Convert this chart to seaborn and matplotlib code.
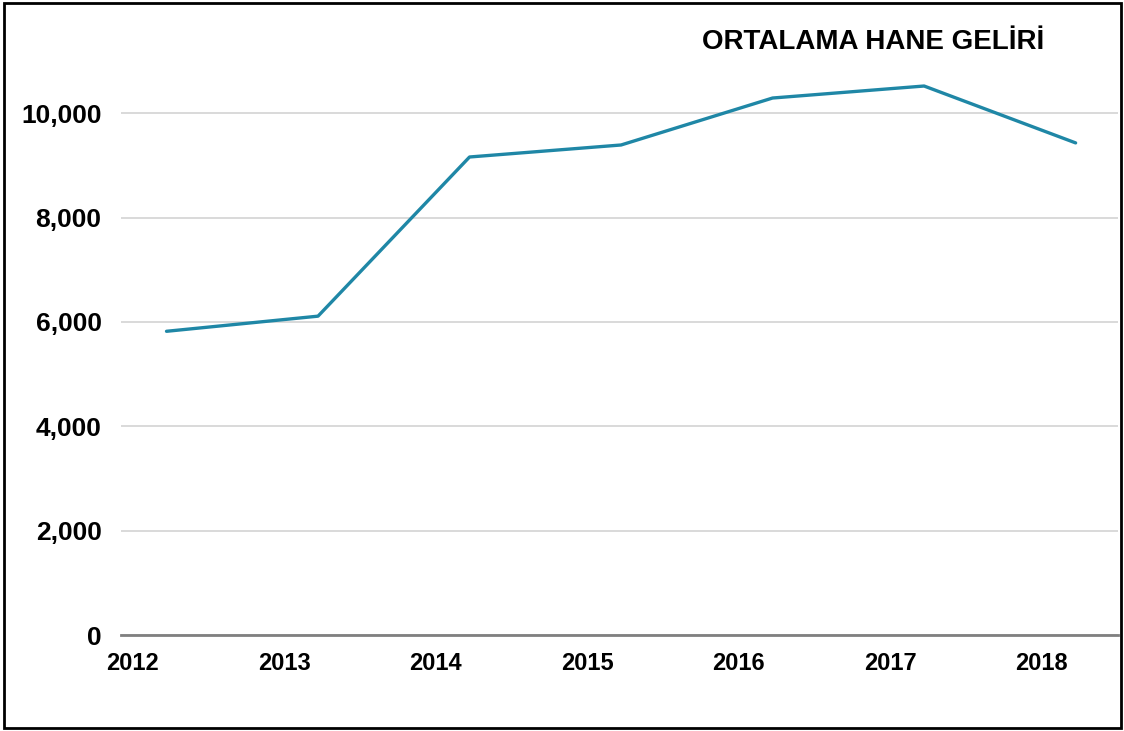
import matplotlib
matplotlib.use("Agg")
import matplotlib.pyplot as plt
import matplotlib.transforms as mtransforms
from matplotlib.patches import Rectangle
from matplotlib.ticker import FuncFormatter
import seaborn as sns
import pandas as pd

years = ["2012", "2013", "2014", "2015", "2016", "2017", "2018"]
income = [5820, 6110, 9160, 9390, 10290, 10520, 9430]
y_ticks = [0, 2000, 4000, 6000, 8000, 10000]
title = "ORTALAMA HANE GELİRİ"

sns.set_theme(style="white")
plt.rcParams["font.family"] = ["Liberation Sans", "DejaVu Sans"]

df = pd.DataFrame({"pos": range(len(years)), "year": years, "income": income})

fig = plt.figure(figsize=(11.24, 7.31), dpi=100)
ax = fig.add_axes([0.1077, 0.1313, 0.887, 0.7853])

sns.lineplot(data=df, x="pos", y="income", ax=ax, color="#1F87A6", linewidth=2.4)

ax.set_xlim(-0.30, 6.28)
ax.set_ylim(0, 11000)
ax.set_yticks(y_ticks)
ax.yaxis.set_major_formatter(FuncFormatter(lambda v, p: f"{int(v):,}"))
ax.set_xticks(range(len(years)))
ax.set_xticklabels(years)
ax.set_xlabel("")
ax.set_ylabel("")

ax.grid(axis="y", color="#d9d9d9", linewidth=1.4)
ax.grid(axis="x", visible=False)
for s in ["top", "right", "left"]:
    ax.spines[s].set_visible(False)
ax.spines["bottom"].set_color("#808080")
ax.spines["bottom"].set_linewidth(2)

ax.tick_params(axis="y", length=0, pad=14, labelsize=19, labelcolor="black")
ax.tick_params(axis="x", length=0, pad=12, labelsize=17, labelcolor="black")
for lbl in ax.get_yticklabels():
    lbl.set_fontweight("bold")
offset = mtransforms.ScaledTranslation(-34 / 100, 0, fig.dpi_scale_trans)
for lbl in ax.get_xticklabels():
    lbl.set_fontweight("bold")
    lbl.set_family(["Liberation Sans Narrow", "Liberation Sans"])
    lbl.set_transform(lbl.get_transform() + offset)

fig.text(0.777, 0.942, title, ha="center", va="center", fontsize=20,
         fontweight="bold", color="black")

fig.patches.append(Rectangle((0.004, 0.004), 0.993, 0.992, transform=fig.transFigure,
                             fill=False, edgecolor="black", linewidth=2))

fig.savefig("out.png", dpi=100)
